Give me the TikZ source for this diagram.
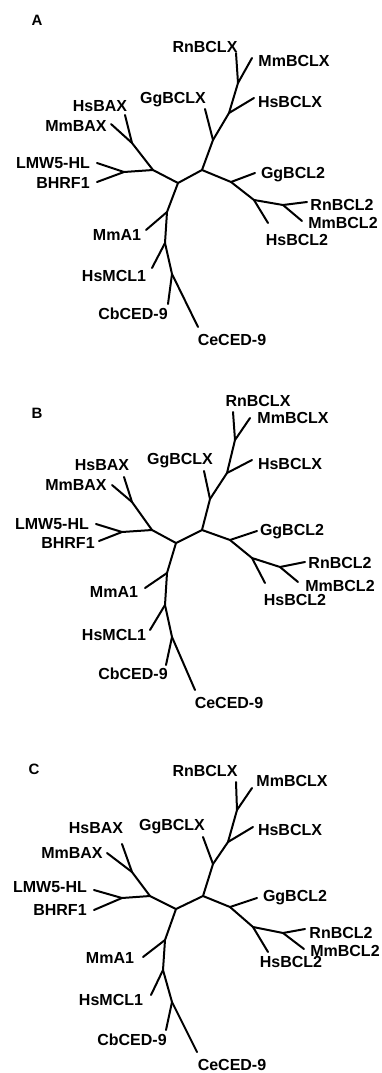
\documentclass[tikz,border=0pt]{standalone}
\usepackage{fontspec}
\setmainfont{Liberation Sans}
\tikzset{
  br/.style={line width=2pt, line join=round, line cap=round},
  lab/.style={font=\bfseries\fontsize{16}{18}\selectfont, inner sep=0pt, text height=11.5pt, text depth=0pt},
  panel/.style={font=\bfseries\fontsize{15}{17}\selectfont, inner sep=0pt, text height=11pt, text depth=0pt}
}
\newcommand{\drawtree}[1]{%
  \draw[br] (#1RnBCLXt) -- (#1X1) -- (#1X2) -- (#1X3) -- (#1R) -- (#1L);
  \draw[br] (#1MmBCLXt) -- (#1X1);
  \draw[br] (#1HsBCLXt) -- (#1X2);
  \draw[br] (#1GgBCLXt) -- (#1X3);
  \draw[br] (#1R) -- (#1G2) -- (#1B2a) -- (#1B2b) -- (#1RnBCL2t);
  \draw[br] (#1GgBCL2t) -- (#1G2);
  \draw[br] (#1HsBCL2t) -- (#1B2a);
  \draw[br] (#1MmBCL2t) -- (#1B2b);
  \draw[br] (#1L) -- (#1J) -- (#1LB) -- (#1LMWt);
  \draw[br] (#1BHRFt) -- (#1LB);
  \draw[br] (#1J) -- (#1BAXn) -- (#1HsBAXt);
  \draw[br] (#1MmBAXt) -- (#1BAXn);
  \draw[br] (#1L) -- (#1M1) -- (#1M2) -- (#1M3) -- (#1CeCEDt);
  \draw[br] (#1MmA1t) -- (#1M1);
  \draw[br] (#1HsMCL1t) -- (#1M2);
  \draw[br] (#1CbCEDt) -- (#1M3);
}
\begin{document}
\begin{tikzpicture}[x=1pt,y=-1pt]
\useasboundingbox (0,0) rectangle (381,1073);
% ---------------- Tree A ----------------
\node[panel] (pA) at (37,20) {A};
\coordinate (aX1) at (238,83);
\coordinate (aX2) at (229,113);
\coordinate (aX3) at (213,140);
\coordinate (aR) at (202,170);
\coordinate (aL) at (178,183);
\coordinate (aJ) at (153,170);
\coordinate (aBAXn) at (132,143);
\coordinate (aLB) at (124,172);
\coordinate (aG2) at (231,182);
\coordinate (aB2a) at (254,200);
\coordinate (aB2b) at (283,205);
\coordinate (aM1) at (167,212);
\coordinate (aM2) at (165,243);
\coordinate (aM3) at (172,274);
\coordinate (aRnBCLXt) at (236,53);
\coordinate (aMmBCLXt) at (252,58);
\coordinate (aHsBCLXt) at (254,98);
\coordinate (aGgBCLXt) at (205,109);
\coordinate (aGgBCL2t) at (255,173);
\coordinate (aRnBCL2t) at (307,202);
\coordinate (aMmBCL2t) at (302,221);
\coordinate (aHsBCL2t) at (268,223);
\coordinate (aCeCEDt) at (198,327);
\coordinate (aCbCEDt) at (168,304);
\coordinate (aHsMCL1t) at (152,268);
\coordinate (aMmA1t) at (146,230);
\coordinate (aBHRFt) at (97,182);
\coordinate (aLMWt) at (97,163);
\coordinate (aMmBAXt) at (111,124);
\coordinate (aHsBAXt) at (125,115);
\node[lab] (aRnBCLX) at (205,47) {RnBCLX};
\node[lab] (aMmBCLX) at (294,61) {MmBCLX};
\node[lab] (aHsBCLX) at (290,102) {HsBCLX};
\node[lab] (aGgBCLX) at (173,98) {GgBCLX};
\node[lab] (aGgBCL2) at (293,173) {GgBCL2};
\node[lab] (aRnBCL2) at (342,205) {RnBCL2};
\node[lab] (aMmBCL2) at (343,223) {MmBCL2};
\node[lab] (aHsBCL2) at (297,240) {HsBCL2};
\node[lab] (aCeCED) at (232,340) {CeCED-9};
\node[lab] (aCbCED) at (133,314) {CbCED-9};
\node[lab] (aHsMCL1) at (114,276) {HsMCL1};
\node[lab] (aMmA1) at (117,235) {MmA1};
\node[lab] (aBHRF) at (63,183) {BHRF1};
\node[lab] (aLMW) at (53,163) {LMW5-HL};
\node[lab] (aMmBAX) at (76,126) {MmBAX};
\node[lab] (aHsBAX) at (100,106) {HsBAX};
\drawtree{a}
% ---------------- Tree B ----------------
\node[panel] (pB) at (37,413) {B};
\coordinate (bX1) at (235,440);
\coordinate (bX2) at (227,473);
\coordinate (bX3) at (210,499);
\coordinate (bR) at (202,530);
\coordinate (bL) at (176,543);
\coordinate (bJ) at (152,530);
\coordinate (bBAXn) at (132,502);
\coordinate (bLB) at (122,532);
\coordinate (bG2) at (230,540);
\coordinate (bB2a) at (252,558);
\coordinate (bB2b) at (280,567);
\coordinate (bM1) at (167,573);
\coordinate (bM2) at (165,605);
\coordinate (bM3) at (172,637);
\coordinate (bRnBCLXt) at (233,412);
\coordinate (bMmBCLXt) at (250,418);
\coordinate (bHsBCLXt) at (252,460);
\coordinate (bGgBCLXt) at (204,471);
\coordinate (bGgBCL2t) at (257,531);
\coordinate (bRnBCL2t) at (305,562);
\coordinate (bMmBCL2t) at (298,582);
\coordinate (bHsBCL2t) at (265,583);
\coordinate (bCeCEDt) at (195,690);
\coordinate (bCbCEDt) at (166,665);
\coordinate (bHsMCL1t) at (150,630);
\coordinate (bMmA1t) at (145,588);
\coordinate (bBHRFt) at (99,541);
\coordinate (bLMWt) at (96,524);
\coordinate (bMmBAXt) at (112,485);
\coordinate (bHsBAXt) at (124,477);
\node[lab] (bRnBCLX) at (258,401) {RnBCLX};
\node[lab] (bMmBCLX) at (293,418) {MmBCLX};
\node[lab] (bHsBCLX) at (290,464) {HsBCLX};
\node[lab] (bGgBCLX) at (180,459) {GgBCLX};
\node[lab] (bGgBCL2) at (292,530) {GgBCL2};
\node[lab] (bRnBCL2) at (340,563) {RnBCL2};
\node[lab] (bMmBCL2) at (340,586) {MmBCL2};
\node[lab] (bHsBCL2) at (295,600) {HsBCL2};
\node[lab] (bCeCED) at (229,703) {CeCED-9};
\node[lab] (bCbCED) at (133,674) {CbCED-9};
\node[lab] (bHsMCL1) at (114,635) {HsMCL1};
\node[lab] (bMmA1) at (114,592) {MmA1};
\node[lab] (bBHRF) at (68,543) {BHRF1};
\node[lab] (bLMW) at (52,524) {LMW5-HL};
\node[lab] (bMmBAX) at (76,485) {MmBAX};
\node[lab] (bHsBAX) at (102,465) {HsBAX};
\drawtree{b}
% ---------------- Tree C ----------------
\node[panel] (pC) at (34,769) {C};
\coordinate (cX1) at (237,810);
\coordinate (cX2) at (228,842);
\coordinate (cX3) at (213,864);
\coordinate (cR) at (203,896);
\coordinate (cL) at (176,909);
\coordinate (cJ) at (150,896);
\coordinate (cBAXn) at (132,872);
\coordinate (cLB) at (122,898);
\coordinate (cG2) at (230,907);
\coordinate (cB2a) at (253,927);
\coordinate (cB2b) at (283,933);
\coordinate (cM1) at (165,940);
\coordinate (cM2) at (163,970);
\coordinate (cM3) at (172,1002);
\coordinate (cRnBCLXt) at (236,782);
\coordinate (cMmBCLXt) at (252,788);
\coordinate (cHsBCLXt) at (253,827);
\coordinate (cGgBCLXt) at (203,837);
\coordinate (cGgBCL2t) at (257,898);
\coordinate (cRnBCL2t) at (305,929);
\coordinate (cMmBCL2t) at (304,949);
\coordinate (cHsBCL2t) at (268,952);
\coordinate (cCeCEDt) at (197,1052);
\coordinate (cCbCEDt) at (166,1030);
\coordinate (cHsMCL1t) at (151,995);
\coordinate (cMmA1t) at (143,957);
\coordinate (cBHRFt) at (94,910);
\coordinate (cLMWt) at (94,890);
\coordinate (cMmBAXt) at (107,853);
\coordinate (cHsBAXt) at (122,844);
\node[lab] (cRnBCLX) at (205,771) {RnBCLX};
\node[lab] (cMmBCLX) at (292,781) {MmBCLX};
\node[lab] (cHsBCLX) at (290,830) {HsBCLX};
\node[lab] (cGgBCLX) at (172,825) {GgBCLX};
\node[lab] (cGgBCL2) at (295,896) {GgBCL2};
\node[lab] (cRnBCL2) at (341,933) {RnBCL2};
\node[lab] (cMmBCL2) at (345,951) {MmBCL2};
\node[lab] (cHsBCL2) at (291,962) {HsBCL2};
\node[lab] (cCeCED) at (232,1065) {CeCED-9};
\node[lab] (cCbCED) at (132,1040) {CbCED-9};
\node[lab] (cHsMCL1) at (111,1000) {HsMCL1};
\node[lab] (cMmA1) at (110,958) {MmA1};
\node[lab] (cBHRF) at (60,910) {BHRF1};
\node[lab] (cLMW) at (50,887) {LMW5-HL};
\node[lab] (cMmBAX) at (72,853) {MmBAX};
\node[lab] (cHsBAX) at (96,828) {HsBAX};
\drawtree{c}
\end{tikzpicture}
\end{document}
